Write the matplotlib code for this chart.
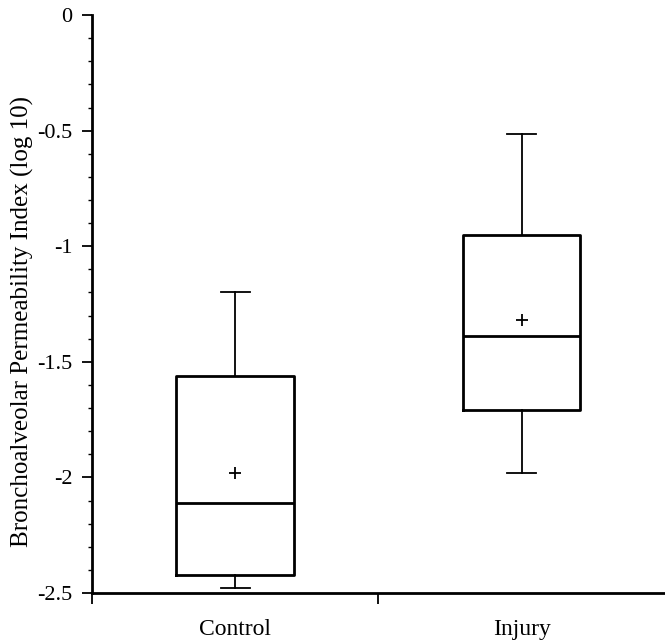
import numpy as np
import matplotlib
matplotlib.use("Agg")
import matplotlib.pyplot as plt
from matplotlib.ticker import MultipleLocator, FuncFormatter

# DATA (log10 permeability index)
groups = ["Control", "Injury"]
whisker_low = [-2.48, -1.98]
q1 = [-2.42, -1.71]
median = [-2.11, -1.39]
q3 = [-1.56, -0.95]
whisker_high = [-1.20, -0.515]
mean = [-1.98, -1.32]

plt.rcParams["font.family"] = ["Liberation Serif", "DejaVu Serif"]
plt.rcParams["axes.unicode_minus"] = False

stats = []
for i in range(len(groups)):
    stats.append({"label": groups[i], "whislo": whisker_low[i], "q1": q1[i],
                  "med": median[i], "q3": q3[i], "whishi": whisker_high[i],
                  "mean": mean[i]})

fig = plt.figure(figsize=(6.65, 6.42), dpi=100)
ax = fig.add_axes([0.1383, 0.0763, 0.8617, 0.9003])

positions = np.arange(len(groups))
ax.bxp(stats, positions=positions, widths=0.41, capwidths=0.1,
       showmeans=True, showfliers=False,
       boxprops=dict(color="black", linewidth=2.0),
       medianprops=dict(color="black", linewidth=2.0),
       whiskerprops=dict(color="black", linewidth=1.3),
       capprops=dict(color="black", linewidth=1.3),
       meanprops=dict(marker="+", markeredgecolor="black", markersize=9,
                      markeredgewidth=1.3))

ax.set_xlim(-0.5, 1.5)
ax.set_ylim(-2.5, 0)

# y axis: major every 0.5, minor every 0.1
ax.yaxis.set_major_locator(MultipleLocator(0.5))
ax.yaxis.set_minor_locator(MultipleLocator(0.1))
ax.yaxis.set_major_formatter(FuncFormatter(lambda v, p: "%g" % v))

# x ticks sit between the groups, labels under the boxes
ax.set_xticks([-0.5, 0.5])
ax.set_xticklabels([])
ax.set_xticks(positions, minor=True)
ax.set_xticklabels(groups, minor=True)
ax.tick_params(axis="x", which="minor", length=0, pad=19, labelsize=17)
ax.tick_params(axis="x", which="major", length=8, width=1.3)
ax.tick_params(axis="y", which="major", length=7, width=1.3, labelsize=16, pad=7)
ax.tick_params(axis="y", which="minor", length=3, width=1.0)

for s in ["top", "right"]:
    ax.spines[s].set_visible(False)
for s in ["left", "bottom"]:
    ax.spines[s].set_linewidth(2.0)

ax.set_ylabel("Bronchoalveolar Permeability Index (log 10)", fontsize=18)
ax.yaxis.set_label_coords(-0.101, 0.4706)

fig.savefig("out.png", dpi=100)
